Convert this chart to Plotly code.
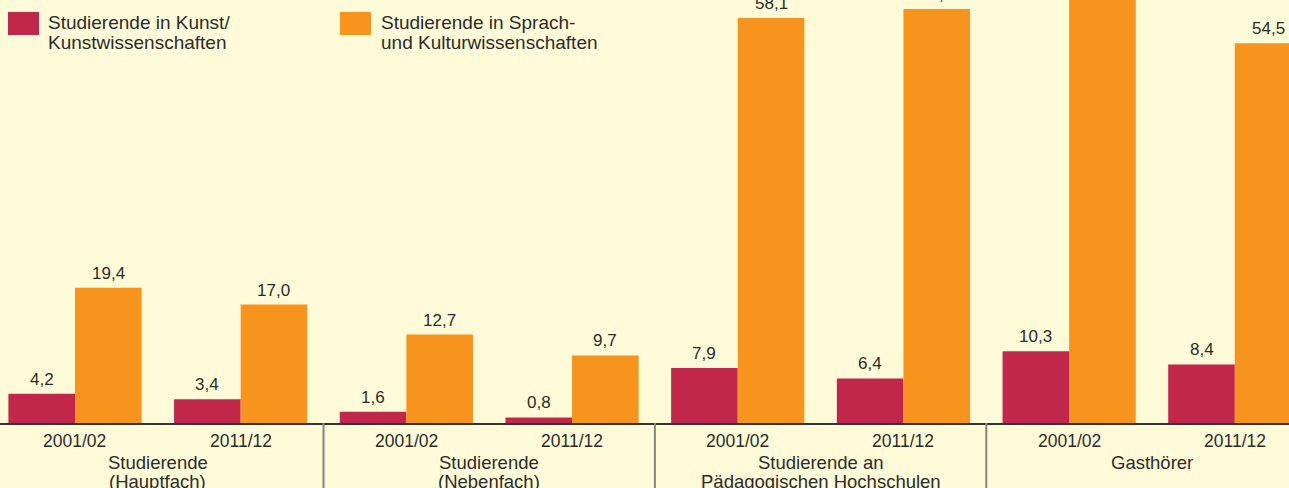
import plotly.graph_objects as go

years = ["2001/02", "2011/12"] * 4
groups = [["Studierende", "(Hauptfach)"], ["Studierende", "(Nebenfach)"],
          ["Studierende an", "Pädagogischen Hochschulen"], ["Gasthörer", ""]]
kunst = [4.2, 3.4, 1.6, 0.8, 7.9, 6.4, 10.3, 8.4]
sprach = [19.4, 17.0, 12.7, 9.7, 58.1, 59.4, 63.5, 54.5]
series_names = [["Studierende in Kunst/", "Kunstwissenschaften"],
                ["Studierende in Sprach-", "und Kulturwissenschaften"]]

RED = "#C1274A"
ORANGE = "#F7941E"
BG = "#FFFBD8"
TXT = "#2b2b2b"
FONT = "Liberation Sans, Arial, sans-serif"

W, H = 1289, 488
PLOT_H = 423
x = list(range(len(years)))
XR = [-0.4526, 7.327]
YR = [0, 60.7]
BW = 0.402


def fmt(v):
    return f"{v:.1f}".replace(".", ",")


def xp(v):
    return (v - XR[0]) / (XR[1] - XR[0])


def yp(px):  # pixel from top -> paper y
    return 1 - px / PLOT_H


fig = go.Figure()
fig.add_bar(x=x, y=kunst, marker_color=RED, marker_line_width=0, width=BW,
            offset=-BW, name=" ".join(series_names[0]), showlegend=False)
fig.add_bar(x=x, y=sprach, marker_color=ORANGE, marker_line_width=0, width=BW,
            offset=0, name=" ".join(series_names[1]), showlegend=False)

annotations = []
for vals, off in [(kunst, -BW / 2), (sprach, BW / 2)]:
    for xi, v in zip(x, vals):
        annotations.append(dict(x=xi + off, y=v, xref="x", yref="y", text=fmt(v),
                                xanchor="center", yanchor="bottom", yshift=3,
                                showarrow=False,
                                font=dict(family=FONT, size=17, color=TXT)))

shapes = []
for s in [1.5, 3.5, 5.5]:
    shapes.append(dict(type="line", xref="paper", yref="paper", x0=xp(s), x1=xp(s),
                       y0=0, y1=-0.2, line=dict(color="#85857a", width=2)))

# tick labels (years)
for xi, yr in zip(x, years):
    annotations.append(dict(x=xp(xi), xref="paper", y=yp(441), yref="paper",
                            xanchor="center", yanchor="middle", text=yr,
                            showarrow=False,
                            font=dict(family=FONT, size=17.5, color=TXT)))
# group labels
for i, g in enumerate(groups):
    for j, line in enumerate(g):
        if line:
            annotations.append(dict(x=xp(2 * i + 0.5), xref="paper",
                                    y=yp(462 + 19 * j), yref="paper",
                                    xanchor="center", yanchor="middle", text=line,
                                    showarrow=False,
                                    font=dict(family=FONT, size=18.5, color=TXT)))

# legend
for (sx, tx, col), lines in zip([(8, 46, RED), (340, 379, ORANGE)], series_names):
    shapes.append(dict(type="rect", xref="paper", yref="paper", x0=sx / W, x1=(sx + 31) / W,
                       y0=yp(12), y1=yp(35), fillcolor=col, line_width=0))
    for j, line in enumerate(lines):
        annotations.append(dict(x=tx / W, xref="paper", y=yp(23 + 19 * j), yref="paper",
                                xanchor="left", yanchor="middle", text=line,
                                showarrow=False,
                                font=dict(family=FONT, size=19, color=TXT)))

fig.update_layout(
    width=W, height=H,
    margin=dict(l=0, r=0, t=0, b=H - PLOT_H, pad=0),
    paper_bgcolor=BG, plot_bgcolor=BG,
    barmode="overlay",
    shapes=shapes, annotations=annotations,
    xaxis=dict(range=XR, tickvals=x, showticklabels=False, showgrid=False,
               zeroline=False, showline=True, linecolor="#333333", linewidth=2,
               ticks=""),
    yaxis=dict(range=YR, visible=False, showgrid=False, zeroline=False),
)

fig.write_html("out.html", config={"displayModeBar": False}, post_script=(
    "document.documentElement.style.margin='0';document.body.style.margin='0';"
    "document.body.style.overflow='hidden';document.body.style.background='" + BG + "';"))
